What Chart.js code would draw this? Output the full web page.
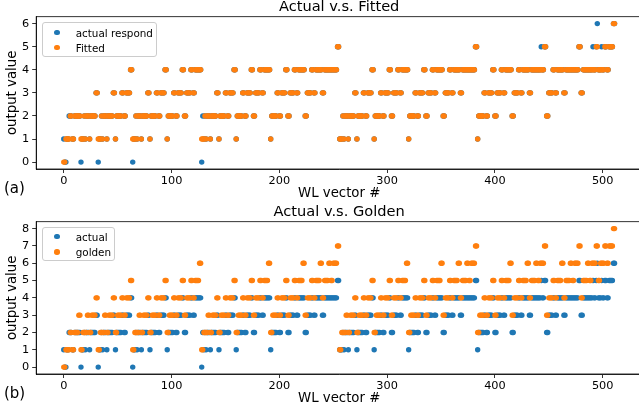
<!DOCTYPE html>
<html>
<head>
<meta charset="utf-8">
<script src="https://cdn.jsdelivr.net/npm/chart.js@4.4.1/dist/chart.umd.min.js"></script>
<style>
html,body{margin:0;padding:0;background:#fff;overflow:hidden;width:639px;height:410px;}
#wrap{position:relative;width:639px;height:410px;overflow:hidden;font-family:"DejaVu Sans",sans-serif;color:#000;}
canvas{position:absolute;left:0;}
.legend{position:absolute;border:1px solid #cccccc;border-radius:3px;background:rgba(255,255,255,0.8);box-sizing:border-box;}
.dot{position:absolute;width:5.4px;height:5.4px;border-radius:50%;}
.ltxt{position:absolute;font-size:10.4px;line-height:12px;height:12px;white-space:nowrap;}
.panel{position:absolute;font-size:15px;line-height:18px;}
</style>
</head>
<body>
<div id="wrap">
  <canvas id="c1" width="660" height="205" style="top:0px"></canvas>
  <canvas id="c2" width="660" height="205" style="top:205px"></canvas>
  <div class="panel" style="left:4px;top:179px">(a)</div>
  <div class="panel" style="left:4px;top:384px">(b)</div>
  <div class="legend" style="left:41.7px;top:21.7px;width:115.6px;height:35px">
    <div class="dot" style="left:11.6px;top:7.3px;background:#1f77b4"></div>
    <div class="ltxt" style="left:33px;top:4px">actual respond</div>
    <div class="dot" style="left:11.6px;top:22.3px;background:#ff7f0e"></div>
    <div class="ltxt" style="left:33px;top:19px">Fitted</div>
  </div>
  <div class="legend" style="left:41.7px;top:226.7px;width:73.3px;height:34.5px">
    <div class="dot" style="left:11.6px;top:6.3px;background:#1f77b4"></div>
    <div class="ltxt" style="left:33px;top:3px">actual</div>
    <div class="dot" style="left:11.6px;top:21.6px;background:#ff7f0e"></div>
    <div class="ltxt" style="left:33px;top:18.3px">golden</div>
  </div>
</div>
<script>
// WL vector index (x categories)
const wlVector = Array.from({length: 512}, (_, i) => i);

const actualValues = [
1,0,0,1,1,2,2,2,1,1,2,2,2,2,2,2,0,1,1,2,1,2,2,2,1,2,2,2,2,2,3,3,
0,1,1,2,1,2,2,2,1,2,2,2,2,2,3,3,1,2,2,2,2,2,3,3,2,2,3,3,3,3,4,4,
0,1,1,2,1,2,2,2,1,2,2,2,2,2,3,3,1,2,2,2,2,2,3,3,2,2,3,3,3,3,4,4,
1,2,2,2,2,2,3,3,2,2,3,3,3,3,4,4,2,2,3,3,3,3,4,4,3,3,4,4,4,4,4,4,
0,2,1,2,1,2,2,2,1,2,2,2,2,2,3,3,1,2,2,2,2,2,3,3,2,2,3,3,3,3,4,4,
1,2,2,2,2,2,3,3,2,2,3,3,3,3,4,4,2,2,3,3,3,3,4,4,3,3,4,4,4,4,4,4,
1,2,2,2,2,2,3,3,2,2,3,3,3,3,4,4,2,2,3,3,3,3,4,4,3,3,4,4,4,4,4,4,
2,2,3,3,3,3,4,4,3,3,4,4,4,4,4,4,3,3,4,4,4,4,4,4,4,4,4,4,4,4,5,5,
1,1,1,2,1,2,2,2,1,2,2,2,2,2,3,3,1,2,2,2,2,2,3,3,2,2,3,3,3,3,4,4,
1,2,2,2,2,2,3,3,2,2,3,3,3,3,4,4,2,2,3,3,3,3,4,4,3,3,4,4,4,4,4,4,
1,2,2,2,2,2,3,3,2,2,3,3,3,3,4,4,2,2,3,3,3,3,4,4,3,3,4,4,4,4,4,4,
2,2,3,3,3,3,4,4,3,3,4,4,4,4,4,4,3,3,4,4,4,4,4,4,4,4,4,4,4,4,5,5,
1,2,2,2,2,2,3,3,2,2,3,3,3,3,4,4,2,2,3,3,3,3,4,4,3,3,4,4,4,4,4,4,
2,2,3,3,3,3,4,4,3,3,4,4,4,4,4,4,3,3,4,4,4,4,4,4,4,4,4,5,4,4,5,5,
2,2,3,3,3,3,4,4,3,3,4,4,4,4,4,4,3,3,4,4,4,4,4,4,4,4,4,4,4,4,5,5,
3,3,4,4,4,4,4,4,4,4,4,5,4,4,5,6,4,4,4,5,4,4,5,5,4,4,5,5,5,5,6,6
];

const fittedValues = [
0,0,1,1,1,1,2,2,1,1,2,2,2,2,2,2,1,1,1,2,1,2,2,2,1,2,2,2,2,2,3,3,
1,1,1,2,1,2,2,2,1,2,2,2,2,2,3,3,1,2,2,2,2,2,3,3,2,2,3,3,3,3,4,4,
1,1,1,2,1,2,2,2,1,2,2,2,2,2,3,3,1,2,2,2,2,2,3,3,2,2,3,3,3,3,4,4,
1,2,2,2,2,2,3,3,2,2,3,3,3,3,4,4,2,2,3,3,3,3,4,4,3,3,4,4,4,4,4,4,
1,1,1,2,1,2,2,2,1,2,2,2,2,2,3,3,1,2,2,2,2,2,3,3,2,2,3,3,3,3,4,4,
1,2,2,2,2,2,3,3,2,2,3,3,3,3,4,4,2,2,3,3,3,3,4,4,3,3,4,4,4,4,4,4,
1,2,2,2,2,2,3,3,2,2,3,3,3,3,4,4,2,2,3,3,3,3,4,4,3,3,4,4,4,4,4,4,
2,2,3,3,3,3,4,4,3,3,4,4,4,4,4,4,3,3,4,4,4,4,4,4,4,4,4,4,4,4,5,5,
1,1,1,2,1,2,2,2,1,2,2,2,2,2,3,3,1,2,2,2,2,2,3,3,2,2,3,3,3,3,4,4,
1,2,2,2,2,2,3,3,2,2,3,3,3,3,4,4,2,2,3,3,3,3,4,4,3,3,4,4,4,4,4,4,
1,2,2,2,2,2,3,3,2,2,3,3,3,3,4,4,2,2,3,3,3,3,4,4,3,3,4,4,4,4,4,4,
2,2,3,3,3,3,4,4,3,3,4,4,4,4,4,4,3,3,4,4,4,4,4,4,4,4,4,4,4,4,5,5,
1,2,2,2,2,2,3,3,2,2,3,3,3,3,4,4,2,2,3,3,3,3,4,4,3,3,4,4,4,4,4,4,
2,2,3,3,3,3,4,4,3,3,4,4,4,4,4,4,3,3,4,4,4,4,4,4,4,4,4,4,4,4,5,5,
2,2,3,3,3,3,4,4,3,3,4,4,4,4,4,4,3,3,4,4,4,4,4,4,4,4,4,4,4,4,5,5,
3,3,4,4,4,4,4,4,4,4,4,4,4,4,5,5,4,4,4,4,4,4,5,5,4,4,5,5,5,5,6,6
];

const goldenValues = [
0,0,1,1,1,1,2,2,1,1,2,2,2,2,3,3,1,1,2,2,2,2,3,3,2,2,3,3,3,3,4,4,
1,1,2,2,2,2,3,3,2,2,3,3,3,3,4,4,2,2,3,3,3,3,4,4,3,3,4,4,4,4,5,5,
1,1,2,2,2,2,3,3,2,2,3,3,3,3,4,4,2,2,3,3,3,3,4,4,3,3,4,4,4,4,5,5,
2,2,3,3,3,3,4,4,3,3,4,4,4,4,5,5,3,3,4,4,4,4,5,5,4,4,5,5,5,5,6,6,
1,1,2,2,2,2,3,3,2,2,3,3,3,3,4,4,2,2,3,3,3,3,4,4,3,3,4,4,4,4,5,5,
2,2,3,3,3,3,4,4,3,3,4,4,4,4,5,5,3,3,4,4,4,4,5,5,4,4,5,5,5,5,6,6,
2,2,3,3,3,3,4,4,3,3,4,4,4,4,5,5,3,3,4,4,4,4,5,5,4,4,5,5,5,5,6,6,
3,3,4,4,4,4,5,5,4,4,5,5,5,5,6,6,4,4,5,5,5,5,6,6,5,5,6,6,6,6,7,7,
1,1,2,2,2,2,3,3,2,2,3,3,3,3,4,4,2,2,3,3,3,3,4,4,3,3,4,4,4,4,5,5,
2,2,3,3,3,3,4,4,3,3,4,4,4,4,5,5,3,3,4,4,4,4,5,5,4,4,5,5,5,5,6,6,
2,2,3,3,3,3,4,4,3,3,4,4,4,4,5,5,3,3,4,4,4,4,5,5,4,4,5,5,5,5,6,6,
3,3,4,4,4,4,5,5,4,4,5,5,5,5,6,6,4,4,5,5,5,5,6,6,5,5,6,6,6,6,7,7,
2,2,3,3,3,3,4,4,3,3,4,4,4,4,5,5,3,3,4,4,4,4,5,5,4,4,5,5,5,5,6,6,
3,3,4,4,4,4,5,5,4,4,5,5,5,5,6,6,4,4,5,5,5,5,6,6,5,5,6,6,6,6,7,7,
3,3,4,4,4,4,5,5,4,4,5,5,5,5,6,6,4,4,5,5,5,5,6,6,5,5,6,6,6,6,7,7,
4,4,5,5,5,5,6,6,5,5,6,6,6,6,7,7,5,5,6,6,6,6,7,7,6,6,7,7,7,7,8,8
];

const xTickValues = [0, 100, 200, 300, 400, 500];
const yTicksTop = [0, 1, 2, 3, 4, 5, 6];
const yTicksBottom = [0, 1, 2, 3, 4, 5, 6, 7, 8];

const FONT = '"DejaVu Sans", sans-serif';
const BLUE = '#1f77b4';
const ORANGE = '#ff7f0e';

const framePlugin = {
  id: 'frame',
  afterDraw(chart) {
    const {ctx, chartArea: a} = chart;
    ctx.save();
    ctx.strokeStyle = '#000';
    ctx.lineWidth = 0.8;
    ctx.strokeRect(a.left, a.top, a.right - a.left, a.bottom - a.top);
    ctx.restore();
  }
};

function toPoints(values) {
  return values.map((v, i) => ({x: wlVector[i], y: v}));
}

function makeChart(id, titleText, labelA, valuesA, labelB, valuesB, yMin, yMax, yTicks) {
  const ds = (label, values, color, order) => ({
    label, data: toPoints(values), backgroundColor: color, borderColor: color,
    borderWidth: 0, pointRadius: 2.7, pointHoverRadius: 2.7, pointBorderWidth: 0, order
  });
  return new Chart(document.getElementById(id), {
    type: 'scatter',
    data: { datasets: [ds(labelA, valuesA, BLUE, 2), ds(labelB, valuesB, ORANGE, 1)] },
    options: {
      responsive: false, animation: false, devicePixelRatio: 1,
      layout: { padding: { left: 0, right: 17.9, top: 0, bottom: 3.5 } },
      plugins: {
        legend: { display: false },
        tooltip: { enabled: false },
        title: {
          display: true, text: titleText, fullSize: false, color: '#000',
          font: { family: FONT, size: 14.6, weight: 'normal', lineHeight: 1.0 },
          padding: { top: 0, bottom: 2.1 }
        }
      },
      scales: {
        x: {
          type: 'linear', min: -25.55, max: 536.55,
          afterBuildTicks: s => { s.ticks = xTickValues.map(v => ({value: v})); },
          afterFit: s => { s.height = 32.5; },
          ticks: { color: '#000', font: { family: FONT, size: 11.3 }, padding: 1, maxRotation: 0, autoSkip: false },
          grid: { drawOnChartArea: false, drawTicks: true, tickLength: 4, tickColor: '#000', tickWidth: 0.8 },
          border: { display: true, color: '#000', width: 0.8 },
          title: { display: true, text: 'WL vector #', color: '#000', font: { family: FONT, size: 13.3 }, padding: { top: 0, bottom: 0 } }
        },
        y: {
          type: 'linear', min: yMin, max: yMax,
          afterBuildTicks: s => { s.ticks = yTicks.map(v => ({value: v})); },
          afterFit: s => { s.width = 36.2; },
          ticks: { color: '#000', font: { family: FONT, size: 11.3 }, padding: 3, autoSkip: false },
          grid: { drawOnChartArea: false, drawTicks: true, tickLength: 4, tickColor: '#000', tickWidth: 0.8 },
          border: { display: true, color: '#000', width: 0.8 },
          title: { display: true, text: 'output value', color: '#000', font: { family: FONT, size: 13.3 }, padding: { top: 5, bottom: 0 } }
        }
      }
    },
    plugins: [framePlugin]
  });
}

makeChart('c1', 'Actual v.s. Fitted', 'actual respond', actualValues, 'Fitted', fittedValues, -0.3, 6.3, yTicksTop);
makeChart('c2', 'Actual v.s. Golden', 'actual', actualValues, 'golden', goldenValues, -0.4, 8.4, yTicksBottom);
</script>
</body>
</html>
